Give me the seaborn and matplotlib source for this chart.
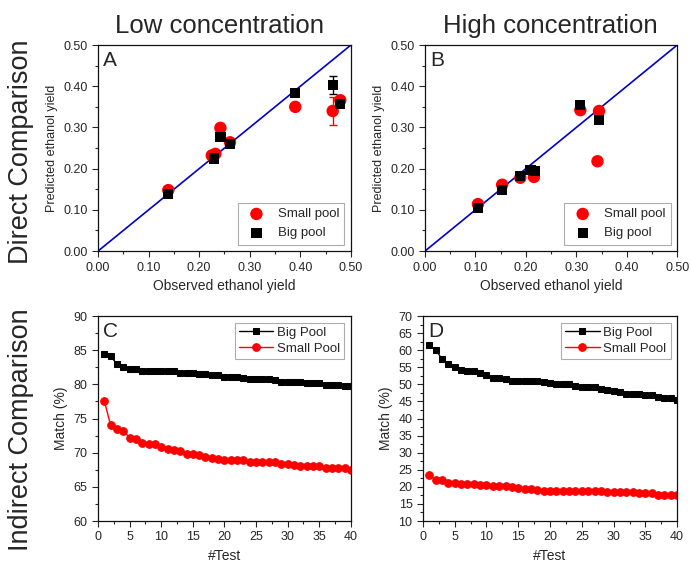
import matplotlib
matplotlib.use("Agg")
import matplotlib.pyplot as plt
import seaborn as sns
import numpy as np
import pandas as pd

# --- panel A (low concentration), direct comparison
a_small_x = [0.139, 0.225, 0.232, 0.242, 0.261, 0.390, 0.464, 0.479]
a_small_y = [0.148, 0.232, 0.236, 0.299, 0.264, 0.350, 0.340, 0.366]
a_big_x = [0.139, 0.230, 0.242, 0.261, 0.390, 0.464, 0.479]
a_big_y = [0.139, 0.225, 0.277, 0.260, 0.383, 0.403, 0.357]
a_err_x = [0.464, 0.464]
a_err_y = [0.340, 0.403]
a_err = [0.034, 0.021]

# --- panel B (high concentration), direct comparison
b_small_x = [0.105, 0.153, 0.189, 0.216, 0.308, 0.345, 0.342]
b_small_y = [0.114, 0.161, 0.178, 0.180, 0.342, 0.340, 0.218]
b_big_x = [0.105, 0.153, 0.189, 0.209, 0.217, 0.308, 0.345]
b_big_y = [0.104, 0.149, 0.182, 0.197, 0.194, 0.354, 0.318]

diag = [0.0, 0.5]

# --- panels C/D, indirect comparison
tests = list(range(1, 41))
c_big = [84.4, 84.1, 83.0, 82.6, 82.2, 82.2, 82.0, 82.0, 82.0, 81.9,
         81.9, 81.9, 81.7, 81.7, 81.7, 81.5, 81.5, 81.3, 81.3, 81.1,
         81.1, 81.1, 81.0, 80.8, 80.8, 80.8, 80.8, 80.7, 80.4, 80.4,
         80.4, 80.3, 80.2, 80.2, 80.2, 79.9, 79.9, 79.9, 79.7, 79.7]
c_small = [77.6, 74.0, 73.4, 73.2, 72.2, 72.0, 71.4, 71.2, 71.2, 70.8,
           70.6, 70.4, 70.2, 69.8, 69.8, 69.6, 69.4, 69.2, 69.1, 69.0,
           68.9, 68.9, 68.9, 68.7, 68.7, 68.7, 68.7, 68.6, 68.4, 68.4,
           68.2, 68.1, 68.1, 68.1, 68.1, 67.7, 67.7, 67.7, 67.7, 67.5]
d_big = [61.5, 60.2, 57.4, 56.1, 55.1, 54.3, 54.0, 53.8, 53.2, 52.8,
         51.9, 51.8, 51.5, 51.1, 51.1, 50.9, 50.9, 50.9, 50.6, 50.3,
         50.2, 50.1, 50.0, 49.5, 49.2, 49.2, 49.1, 48.6, 48.4, 48.2,
         47.7, 47.2, 47.1, 47.1, 47.0, 47.0, 46.2, 45.9, 45.9, 45.4]
d_small = [23.6, 22.0, 22.0, 21.2, 21.0, 20.8, 20.8, 20.8, 20.6, 20.4,
           20.3, 20.3, 20.3, 20.0, 19.8, 19.5, 19.5, 19.1, 18.9, 18.9,
           18.9, 18.8, 18.8, 18.8, 18.8, 18.8, 18.7, 18.7, 18.6, 18.5,
           18.5, 18.4, 18.4, 18.3, 18.3, 18.1, 17.7, 17.7, 17.7, 17.7]

col_titles = ["Low concentration", "High concentration"]
row_titles = ["Direct Comparison", "Indirect Comparison"]

sns.set_style("ticks")
plt.rcParams["font.family"] = ["Liberation Sans", "DejaVu Sans"]
plt.rcParams["xtick.direction"] = "out"
plt.rcParams["ytick.direction"] = "out"

fig = plt.figure(figsize=(6.91, 5.63), dpi=100)
ax_a = fig.add_axes([0.1418, 0.554, 0.366, 0.366])
ax_b = fig.add_axes([0.615, 0.554, 0.365, 0.366])
ax_c = fig.add_axes([0.1418, 0.0746, 0.366, 0.364])
ax_d = fig.add_axes([0.612, 0.0746, 0.368, 0.364])

RED = "#ff0000"
BLUE = "#0000cc"


def scatter_panel(ax, sx, sy, bx, by, letter):
    sns.lineplot(x=diag, y=diag, ax=ax, color=BLUE, lw=1.2, zorder=1)
    sns.scatterplot(x=sx, y=sy, ax=ax, color=RED, marker="o", s=80,
                    edgecolor="none", label="Small pool", zorder=3)
    sns.scatterplot(x=bx, y=by, ax=ax, color="black", marker="s", s=55,
                    edgecolor="none", label="Big pool", zorder=4)
    ax.set_xlim(0, 0.5)
    ax.set_ylim(0, 0.5)
    ticks = np.arange(0, 0.51, 0.1)
    ax.set_xticks(ticks)
    ax.set_yticks(ticks)
    ax.set_xticklabels([f"{t:.2f}" for t in ticks])
    ax.set_yticklabels([f"{t:.2f}" for t in ticks])
    ax.set_xticks(np.arange(0.05, 0.5, 0.1), minor=True)
    ax.set_yticks(np.arange(0.05, 0.5, 0.1), minor=True)
    ax.set_xlabel("Observed ethanol yield", fontsize=10)
    ax.set_ylabel("Predicted ethanol yield", fontsize=9)
    ax.text(0.02, 0.97, letter, transform=ax.transAxes, fontsize=15,
            va="top", ha="left")
    leg = ax.legend(loc="lower right", fontsize=9.5, frameon=True,
                    fancybox=False, edgecolor="#999999", handletextpad=0.6,
                    borderpad=0.4, labelspacing=0.5)
    leg.get_frame().set_linewidth(0.8)


def line_panel(ax, big, small, ylim, step, letter):
    df = pd.DataFrame({"test": tests, "Big Pool": big, "Small Pool": small})
    sns.lineplot(data=df, x="test", y="Big Pool", ax=ax, color="black",
                 marker="s", markersize=4.5, markeredgecolor="black", lw=1,
                 label="Big Pool")
    sns.lineplot(data=df, x="test", y="Small Pool", ax=ax, color=RED,
                 marker="o", markersize=5.5, markeredgecolor=RED, lw=1,
                 label="Small Pool")
    ax.set_xlim(0, 40)
    ax.set_ylim(*ylim)
    ax.set_xticks(np.arange(0, 41, 5))
    ax.set_xticks(np.arange(2.5, 40, 5), minor=True)
    ax.set_yticks(np.arange(ylim[0], ylim[1] + 0.1, step))
    ax.set_yticks(np.arange(ylim[0] + step / 2, ylim[1], step), minor=True)
    ax.set_xlabel("#Test", fontsize=10)
    ax.set_ylabel("Match (%)", fontsize=10)
    ax.text(0.02, 0.97, letter, transform=ax.transAxes, fontsize=15,
            va="top", ha="left")
    leg = ax.legend(loc="upper right", fontsize=9.5, frameon=True,
                    fancybox=False, edgecolor="#999999", handlelength=2.6,
                    borderpad=0.3, labelspacing=0.3, handletextpad=0.3)
    leg.get_frame().set_linewidth(0.8)


scatter_panel(ax_a, a_small_x, a_small_y, a_big_x, a_big_y, "A")
ax_a.errorbar(a_err_x[:1], a_err_y[:1], yerr=a_err[:1], fmt="none",
              ecolor=RED, capsize=3, lw=1, zorder=2)
ax_a.errorbar(a_err_x[1:], a_err_y[1:], yerr=a_err[1:], fmt="none",
              ecolor="black", capsize=3, lw=1, zorder=2)
scatter_panel(ax_b, b_small_x, b_small_y, b_big_x, b_big_y, "B")

line_panel(ax_c, c_big, c_small, (60, 90), 5, "C")
line_panel(ax_d, d_big, d_small, (10, 70), 5, "D")

for ax in (ax_a, ax_b, ax_c, ax_d):
    for sp in ax.spines.values():
        sp.set_visible(True)
        sp.set_linewidth(0.9)
        sp.set_color("#111111")
    ax.tick_params(which="major", length=4, labelsize=9, width=0.8)
    ax.tick_params(which="minor", length=2, width=0.8)
    ax.tick_params(top=False, right=False, which="both")

fig.text(0.318, 0.953, col_titles[0], fontsize=18.5, ha="center", va="center")
fig.text(0.797, 0.953, col_titles[1], fontsize=18.5, ha="center", va="center")
fig.text(0.03, 0.73, row_titles[0], fontsize=19.5, rotation=90,
         ha="center", va="center")
fig.text(0.03, 0.237, row_titles[1], fontsize=19.5, rotation=90,
         ha="center", va="center")

fig.savefig("out.png", dpi=100)
